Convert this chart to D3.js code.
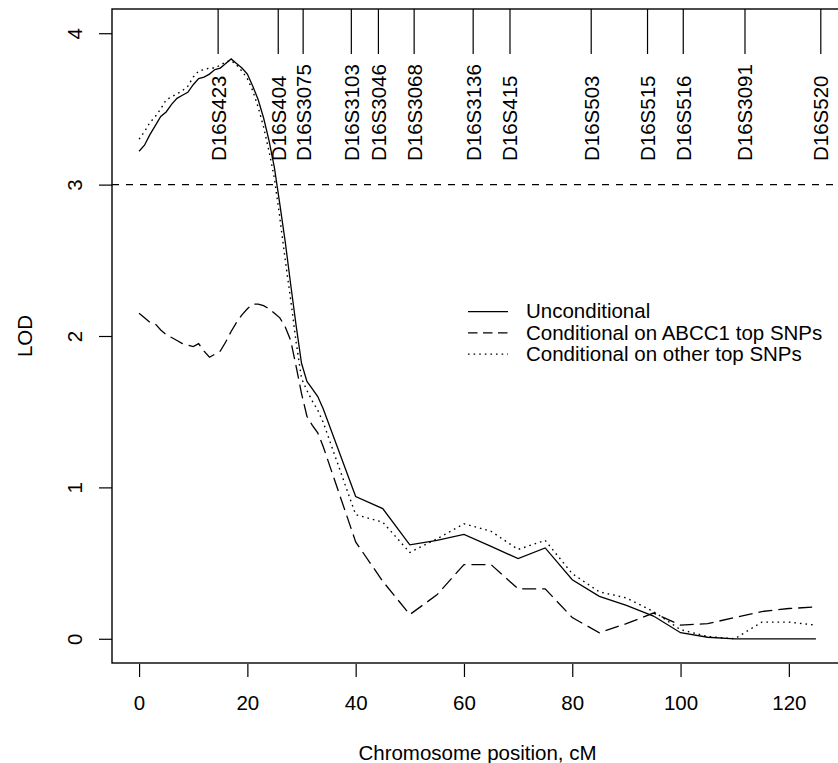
<!DOCTYPE html>
<html>
<head>
<meta charset="utf-8">
<script src="https://cdn.jsdelivr.net/npm/d3@7"></script>
<style>
  html, body { margin: 0; padding: 0; background: #fff; }
  svg { display: block; font-family: "Liberation Sans", Arial, Helvetica, sans-serif; }
</style>
</head>
<body>
<svg id="chart" width="838" height="763"></svg>
<script>
// Chromosome 16 linkage scan: LOD score against map position (cM)
const positionsDense = [0,1,2,3,4,5,6,7,8,9,10,11,12,13,14,15,16,17,18,19,20,21,22,23,24,25,26,27,28,29,30,31,32,33,34];
const positionsCoarse = [40,45,50,55,60,65,70,75,80,85,90,95,100,105,110,115,120,125];

const lodUnconditional = [
  3.22,3.26,3.33,3.39,3.45,3.48,3.53,3.57,3.59,3.61,3.66,3.70,3.71,3.73,3.76,3.77,3.80,3.83,3.80,3.77,
  3.73,3.65,3.56,3.44,3.29,3.11,2.87,2.62,2.34,2.07,1.82,1.70,1.65,1.60,1.52,
  0.94,0.86,0.62,0.65,0.69,0.61,0.53,0.60,0.39,0.28,0.22,0.15,0.04,0.01,0.00,0.00,0.00,0.00
];
const lodCondABCC1 = [
  2.15,2.12,2.09,2.08,2.04,2.01,1.99,1.97,1.95,1.94,1.93,1.95,1.90,1.86,1.88,1.90,1.96,2.03,2.09,2.14,
  2.18,2.21,2.21,2.20,2.18,2.15,2.12,2.06,1.97,1.80,1.62,1.47,1.41,1.36,1.27,
  0.64,0.38,0.16,0.29,0.49,0.49,0.33,0.33,0.14,0.04,0.10,0.17,0.09,0.10,0.14,0.18,0.20,0.21
];
const lodCondOther = [
  3.30,3.35,3.41,3.45,3.50,3.56,3.58,3.60,3.62,3.65,3.71,3.75,3.76,3.77,3.77,3.79,3.81,3.82,3.79,3.75,
  3.70,3.62,3.51,3.38,3.22,3.04,2.78,2.50,2.24,1.96,1.72,1.64,1.57,1.51,1.43,
  0.82,0.77,0.57,0.66,0.76,0.71,0.59,0.65,0.43,0.31,0.27,0.18,0.06,0.015,0.00,0.11,0.11,0.09
];

const markerNames = ["D16S423","D16S404","D16S3075","D16S3103","D16S3046","D16S3068","D16S3136",
                     "D16S415","D16S503","D16S515","D16S516","D16S3091","D16S520"];
const markerPositions = [14.6,25.7,30.3,39.2,44.2,50.8,61.7,68.5,83.5,93.9,100.5,111.9,125.9];

const xTicks = [0,20,40,60,80,100,120];
const yTicks = [0,1,2,3,4];
const threshold = 3;

const seriesNames = ["Unconditional","Conditional on ABCC1 top SNPs","Conditional on other top SNPs"];
const seriesDash = [null, "14,6", "1.6,4"];

// ---- layout ----
const svg = d3.select("#chart");
const box = { left: 112, right: 843, top: 9, bottom: 663 };
const fontSize = 20.5;

const x = d3.scaleLinear().domain([-5, 130]).range([box.left, box.right]);
const y = d3.scaleLinear().domain([-0.16, 4.16]).range([box.bottom, box.top]);

const positions = positionsDense.concat(positionsCoarse);
const series = [lodUnconditional, lodCondABCC1, lodCondOther].map(v =>
  positions.map((p, i) => [p, v[i]]));

// ---- frame ----
svg.append("rect")
  .attr("x", box.left).attr("y", box.top)
  .attr("width", box.right - box.left).attr("height", box.bottom - box.top)
  .attr("fill", "none").attr("stroke", "#000").attr("stroke-width", 1.4);

// ---- axes ----
const xAxis = d3.axisBottom(x).tickValues(xTicks).tickSize(13).tickPadding(4).tickFormat(d3.format("d"));
const gx = svg.append("g").attr("transform", `translate(0,${box.bottom + 1})`).call(xAxis);
gx.select(".domain").remove();
gx.selectAll(".tick line").attr("stroke", "#000").attr("stroke-width", 1.2);
gx.selectAll(".tick text")
  .attr("y", null).attr("dy", null)
  .attr("transform", "translate(0,45.5)")
  .attr("font-size", fontSize).attr("font-family", null).attr("fill", "#000");

const yAxis = d3.axisLeft(y).tickValues(yTicks).tickSize(13).tickFormat(d3.format("d"));
const gy = svg.append("g").attr("transform", `translate(${box.left},0)`).call(yAxis);
gy.select(".domain").remove();
gy.selectAll(".tick line").attr("stroke", "#000").attr("stroke-width", 1.2);
gy.selectAll(".tick text")
  .attr("x", null).attr("dy", null)
  .attr("text-anchor", "middle")
  .attr("transform", "translate(-30.5,0) rotate(-90)")
  .attr("font-size", fontSize).attr("font-family", null).attr("fill", "#000");

// axis titles
svg.append("text")
  .attr("x", (box.left + box.right) / 2).attr("y", 760)
  .attr("text-anchor", "middle").attr("font-size", fontSize)
  .text("Chromosome position, cM");

svg.append("text")
  .attr("transform", `translate(31.5,${(box.top + box.bottom) / 2}) rotate(-90)`)
  .attr("text-anchor", "middle").attr("font-size", fontSize)
  .text("LOD");

// ---- significance threshold ----
svg.append("line")
  .attr("x1", box.left).attr("x2", box.right)
  .attr("y1", y(threshold)).attr("y2", y(threshold))
  .attr("stroke", "#000").attr("stroke-width", 1.2).attr("stroke-dasharray", "7,7");

// ---- marker positions along the top ----
const markers = svg.append("g");
markerNames.forEach((name, i) => {
  const mx = x(markerPositions[i]);
  markers.append("line")
    .attr("x1", mx).attr("x2", mx).attr("y1", box.top).attr("y2", 54)
    .attr("stroke", "#000").attr("stroke-width", 1.2);
  markers.append("text")
    .attr("transform", `translate(${mx},161) rotate(-90)`)
    .attr("dy", "0.36em")
    .attr("text-anchor", "start").attr("font-size", fontSize)
    .text(name);
});

// ---- LOD curves ----
const line = d3.line().x(d => x(d[0])).y(d => y(d[1]));
series.forEach((pts, i) => {
  svg.append("path")
    .attr("d", line(pts))
    .attr("fill", "none").attr("stroke", "#000")
    .attr("stroke-width", i === 2 ? 1.4 : 1.3)
    .attr("stroke-dasharray", seriesDash[i]);
});

// ---- legend ----
const legendDash = [null, "9.5,5.5", "1.6,4"];
const legend = svg.append("g");
seriesNames.forEach((name, i) => {
  const ly = 311.7 + i * 21.2;
  legend.append("line")
    .attr("x1", 468).attr("x2", 508).attr("y1", ly).attr("y2", ly)
    .attr("stroke", "#000").attr("stroke-width", i === 2 ? 1.4 : 1.3)
    .attr("stroke-dasharray", legendDash[i]);
  legend.append("text")
    .attr("x", 526).attr("y", ly + 6.7)
    .attr("font-size", fontSize)
    .text(name);
});
</script>
</body>
</html>
